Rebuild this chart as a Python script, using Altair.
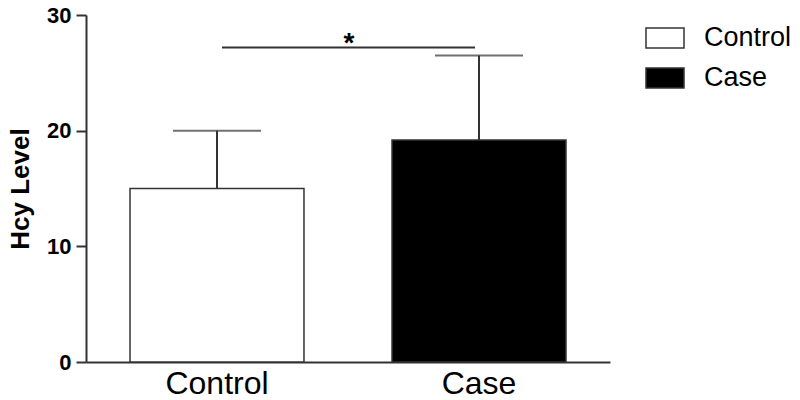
import altair as alt
import pandas as pd

groups = ["Control", "Case"]
means = [15.0, 19.2]
upper = [20.0, 26.5]
sig_from = ["Control"]
sig_to = ["Case"]
sig_level = [27.2]
sig_label = ["*"]

df = pd.DataFrame({"group": groups, "mean": means, "upper": upper})
sig = pd.DataFrame({"a": sig_from, "b": sig_to, "y": sig_level, "label": sig_label})

FONT = "Liberation Sans"
LINE = "#333333"

xscale = alt.Scale(domain=groups, paddingInner=0.336, paddingOuter=0.168)
yscale = alt.Scale(domain=[0, 30], nice=False)

x = alt.X("group:N", scale=xscale, sort=groups, title=None,
          axis=alt.Axis(labelAngle=0, ticks=False, labelFontSize=32, labelFont=FONT,
                        labelColor="black", labelPadding=6, domainColor=LINE, domainWidth=2))
y = alt.Y("mean:Q", scale=yscale, title="Hcy Level",
          axis=alt.Axis(values=[0, 10, 20, 30], tickSize=10, tickWidth=2, tickColor=LINE,
                        domainColor=LINE, domainWidth=2, labelFontSize=22, labelFontWeight="bold",
                        labelFont=FONT, labelColor="black", labelPadding=5, titleFontSize=26,
                        titleFont=FONT, titleFontWeight="bold", titleColor="black",
                        titlePadding=13, grid=False))

bars = alt.Chart(df).mark_bar(stroke=LINE, strokeWidth=1.5).encode(
    x=x, y=y,
    fill=alt.Fill("group:N", scale=alt.Scale(domain=groups, range=["white", "black"]),
                  legend=alt.Legend(orient="none", legendX=559, legendY=3, title=None,
                                    symbolType="M-1,-0.526H1V0.526H-1Z", symbolSize=1444,
                                    symbolStrokeColor=LINE, symbolStrokeWidth=1.5,
                                    labelFontSize=27, labelFont=FONT, labelColor="black",
                                    labelOffset=19, rowPadding=7, padding=0))
)

stems = alt.Chart(df).mark_rule(stroke=LINE, strokeWidth=2).encode(
    x=alt.X("group:N", scale=xscale, sort=groups),
    y=alt.Y("mean:Q", scale=yscale),
    y2="upper:Q",
)

caps = alt.Chart(df).mark_tick(color=LINE, size=88, thickness=2).encode(
    x=alt.X("group:N", scale=xscale, sort=groups),
    y=alt.Y("upper:Q", scale=yscale),
)

sig_line = alt.Chart(sig).mark_rule(stroke=LINE, strokeWidth=2, xOffset=5, x2Offset=-4).encode(
    x=alt.X("a:N", scale=xscale),
    x2="b:N",
    y=alt.Y("y:Q", scale=yscale),
)

star = alt.Chart(sig).mark_text(fontSize=28, font=FONT, fontWeight="bold", color="black",
                                baseline="middle", xOffset=-130, dy=-3).encode(
    x=alt.X("b:N", scale=xscale),
    y=alt.Y("y:Q", scale=yscale),
    text="label:N",
)

chart = alt.layer(bars, stems, caps, sig_line, star).properties(
    width=524, height=347,
    autosize=alt.AutoSizeParams(type="none"),
    padding={"left": 78, "top": 7, "right": 182, "bottom": 45},
).configure_view(stroke=None)

chart.save("out.html", embed_options={"renderer": "svg", "actions": False})
